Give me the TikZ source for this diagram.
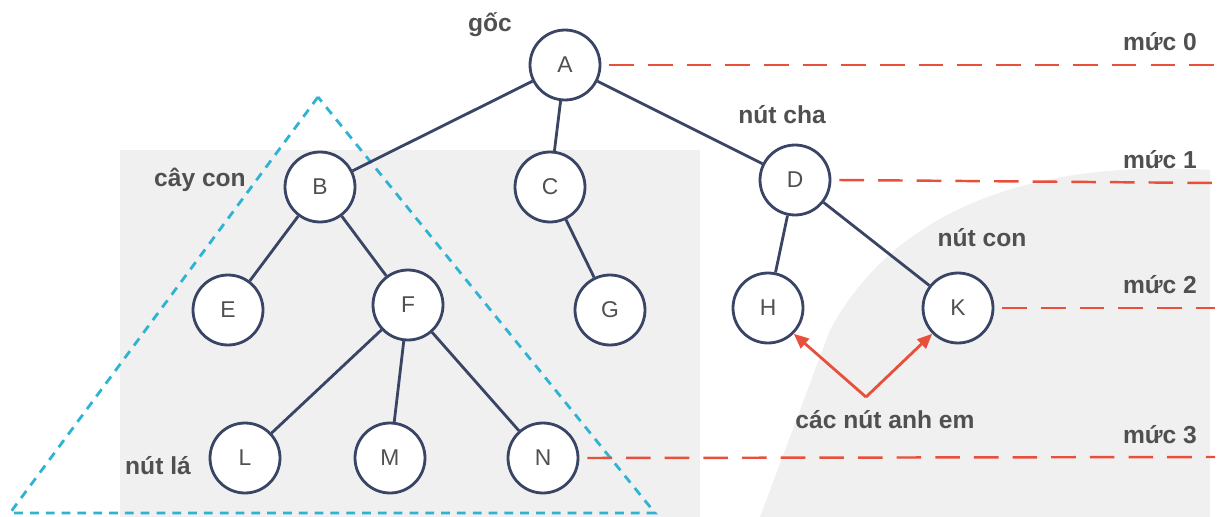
\documentclass[tikz,border=0pt]{standalone}
\usepackage{fontspec}
\setmainfont{Liberation Sans}
\usetikzlibrary{arrows.meta}
\definecolor{navyline}{HTML}{3A4566}
\definecolor{levelred}{HTML}{E8503C}
\definecolor{subcyan}{HTML}{2FB3D3}
\definecolor{labelgray}{HTML}{505050}

\begin{document}
\begin{tikzpicture}[x=0.02cm, y=-0.02cm,
  vertex/.style={circle, draw=navyline, line width=1.6pt, fill=white, minimum size=1.4cm, inner sep=0pt, font=\fontsize{13}{15}\selectfont, text=labelgray},
  edge/.style={draw=navyline, line width=1.6pt},
  level/.style={draw=levelred, line width=1.4pt, dash pattern=on 14pt off 8pt},
  tag/.style={font=\fontsize{14}{16}\selectfont\bfseries, text=labelgray},
  arrow/.style={-{Triangle[length=3mm, width=2.5mm]}, draw=levelred, line width=1.6pt}
]
  \useasboundingbox (0,0) rectangle (1224,517);
  % background watermark
  \fill[gray!12] (120,150) rectangle (700,517);
  \fill[gray!12] (830,330) .. controls (900,200) and (1050,160) .. (1210,170) -- (1210,517) -- (760,517) -- cycle;

  % subtree outline
  \coordinate (top) at (318,97);
  \coordinate (bl) at (10,513);
  \coordinate (br) at (655,513);
  \draw[draw=subcyan, line width=1.6pt, dash pattern=on 5pt off 4pt] (top) -- (bl) -- (br) -- cycle;

  % nodes
  \node[vertex] (A) at (565,65) {A};
  \node[vertex] (B) at (320,187) {B};
  \node[vertex] (C) at (550,187) {C};
  \node[vertex] (D) at (795,180) {D};
  \node[vertex] (E) at (228,310) {E};
  \node[vertex] (F) at (408,305) {F};
  \node[vertex] (G) at (610,310) {G};
  \node[vertex] (H) at (768,308) {H};
  \node[vertex] (K) at (958,308) {K};
  \node[vertex] (L) at (245,458) {L};
  \node[vertex] (M) at (390,458) {M};
  \node[vertex] (N) at (543,458) {N};

  % edges
  \foreach \p/\c in {A/B, A/C, A/D, B/E, B/F, C/G, D/H, D/K, F/L, F/M, F/N}
    \draw[edge] (\p) -- (\c);

  % levels
  \coordinate (l0) at (1215,65);
  \coordinate (l1) at (1215,183);
  \coordinate (l2) at (1215,308);
  \coordinate (l3) at (1215,457);
  \draw[level] (A.east) ++(8,0) -- (l0);
  \draw[level] (D.east) ++(8,0) -- (l1);
  \draw[level] (K.east) ++(8,0) -- (l2);
  \draw[level] (N.east) ++(8,0) -- (l3);
  \node[tag] (m0) at (1160,42) {mức 0};
  \node[tag] (m1) at (1160,160) {mức 1};
  \node[tag] (m2) at (1160,285) {mức 2};
  \node[tag] (m3) at (1160,435) {mức 3};

  % labels
  \node[tag] (goc) at (490,25) {gốc};
  \node[tag] (caycon) at (200,180) {cây con};
  \node[tag] (nutcha) at (782,115) {nút cha};
  \node[tag] (nutcon) at (982,238) {nút con};
  \node[tag] (nutla) at (158,466) {nút lá};
  \node[tag] (anhem) at (885,420) {các nút anh em};

  % sibling arrows
  \coordinate (fork) at (866,397);
  \draw[arrow] (fork) -- (H.south east);
  \draw[arrow] (fork) -- (K.south west);
\end{tikzpicture}
\end{document}
